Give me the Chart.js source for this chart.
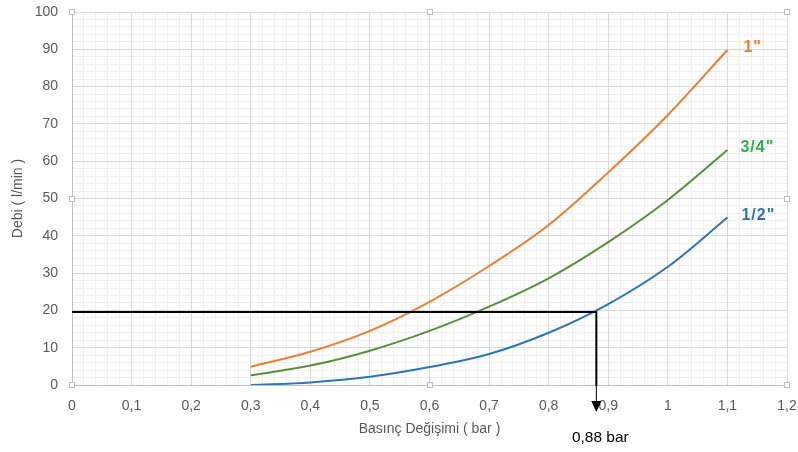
<!DOCTYPE html>
<html>
<head>
<meta charset="utf-8">
<script src="https://cdn.jsdelivr.net/npm/chart.js@4/dist/chart.umd.min.js"></script>
<style>
html,body{margin:0;padding:0;background:#fff;}
#wrap{width:798px;height:452px;position:relative;}
</style>
</head>
<body>
<div id="wrap"><canvas id="c" width="798" height="452"></canvas></div>
<script>
// ---- data ----
const pressure = [0.3, 0.4, 0.5, 0.6, 0.7, 0.8, 0.9, 1.0, 1.1];
const flow1 = [4.9, 8.9, 14.5, 22.3, 31.9, 42.9, 57.0, 72.4, 89.8];
const flow34 = [2.6, 5.2, 9.2, 14.5, 21.0, 28.6, 38.3, 49.6, 63.0];
const flow12 = [0.0, 0.7, 2.2, 4.8, 8.3, 14.0, 21.7, 31.7, 44.9];
const seriesNames = ['1"', '3/4"', '1/2"'];
const seriesColors = ['#ED7D31', '#5B8F3E', '#2E75B6'];
const labelColors = ['#ED7D31', '#2DB34A', '#2E75B6'];
const markerX = 0.88;
const markerY = 19.6;
const markerLabel = '0,88 bar';
const xTitle = 'Basınç Değişimi ( bar )';
const yTitle = 'Debi ( l/min )';

const FONT = 'Liberation Sans, Arial, sans-serif';

function pts(arr){ return pressure.map((x,i)=>({x:x, y:arr[i]})); }

const annot = {
  id:'annot',
  afterDatasetsDraw(chart){
    const {ctx, scales:{x,y}, chartArea:a} = chart;
    ctx.save();
    const px = x.getPixelForValue(markerX), py = y.getPixelForValue(markerY);
    ctx.strokeStyle = '#000'; ctx.lineWidth = 2;
    ctx.beginPath();
    ctx.moveTo(x.getPixelForValue(0), py); ctx.lineTo(px, py);
    ctx.lineTo(px, a.bottom + 1);
    ctx.stroke();
    ctx.lineWidth = 1;
    ctx.beginPath(); ctx.moveTo(px, a.bottom); ctx.lineTo(px, a.bottom+17); ctx.stroke();
    ctx.fillStyle = '#000';
    ctx.beginPath();
    ctx.moveTo(px-5, a.bottom+16); ctx.lineTo(px+5, a.bottom+16); ctx.lineTo(px, a.bottom+27);
    ctx.closePath(); ctx.fill();
    ctx.font = '15.5px ' + FONT;
    ctx.textAlign = 'center'; ctx.textBaseline = 'middle';
    ctx.fillText(markerLabel, px + 4, a.bottom + 53);
    ctx.font = 'bold 16px ' + FONT;
    ctx.letterSpacing = '1px';
    ctx.textAlign = 'left';
    const offs = [16, 13, 14];
    chart.data.datasets.forEach((ds, i) => {
      const meta = chart.getDatasetMeta(i);
      const last = meta.data[meta.data.length-1];
      ctx.fillStyle = labelColors[i];
      ctx.fillText(seriesNames[i], last.x + offs[i], last.y - 2);
    });
    ctx.letterSpacing = '0px';
    ctx.fillStyle = '#fff'; ctx.strokeStyle = '#bfbfbf'; ctx.lineWidth = 1;
    const mx = (a.left + a.right)/2, my = (a.top + a.bottom)/2;
    [[a.left,a.top],[mx,a.top],[a.right,a.top],[a.right,my],[a.right,a.bottom],[a.left,my],[a.left,a.bottom],[mx,a.bottom]].forEach(([hx,hy])=>{
      ctx.fillRect(Math.round(hx)-3, Math.round(hy)-3, 6, 6);
      ctx.strokeRect(Math.round(hx)-2.5, Math.round(hy)-2.5, 5, 5);
    });
    ctx.restore();
  }
};

new Chart(document.getElementById('c'), {
  type: 'line',
  data: {
    datasets: [flow1, flow34, flow12].map((arr, i) => ({
      label: seriesNames[i],
      data: pts(arr),
      borderColor: seriesColors[i],
      borderWidth: 2,
      pointRadius: 0,
      fill: false,
      tension: 0.35
    }))
  },
  options: {
    responsive: false,
    animation: false,
    layout: { padding: { left: 0, right: 11, top: 12, bottom: 0 } },
    plugins: { legend: { display: false }, tooltip: { enabled: false } },
    scales: {
      xm: {
        type: 'linear', min: 0, max: 1.2, position: 'bottom', display: true,
        ticks: { display: false, stepSize: 0.02 },
        grid: { color: '#efefef', drawTicks: false, lineWidth: 1 },
        border: { display: false },
        afterFit(s){ s.height = 0; s.paddingLeft = 0; s.paddingRight = 0; }
      },
      ym: {
        type: 'linear', min: 0, max: 100, position: 'left', display: true,
        ticks: { display: false, stepSize: 2 },
        grid: { color: '#efefef', drawTicks: false, lineWidth: 1 },
        border: { display: false },
        afterFit(s){ s.width = 0; s.paddingTop = 0; s.paddingBottom = 0; }
      },
      x: {
        type: 'linear', min: 0, max: 1.2,
        ticks: {
          stepSize: 0.1, color: '#595959', padding: 13,
          font: { family: FONT, size: 14 },
          callback: v => (Math.round(v*10)/10).toString().replace('.', ',')
        },
        grid: { color: '#d9d9d9', drawTicks: false, lineWidth: 1 },
        border: { color: '#bfbfbf' },
        title: { display: true, text: xTitle, color: '#595959', font: { family: FONT, size: 14 }, padding: { top: 0, bottom: 14 } },
        afterFit(s){ s.height = 67; s.paddingLeft = 0; s.paddingRight = 0; }
      },
      y: {
        type: 'linear', min: 0, max: 100,
        ticks: {
          stepSize: 10, color: '#595959', padding: 14,
          font: { family: FONT, size: 14 }
        },
        grid: { color: '#d9d9d9', drawTicks: false, lineWidth: 1 },
        border: { color: '#bfbfbf' },
        title: { display: true, text: yTitle, color: '#595959', font: { family: FONT, size: 14 }, padding: { top: 10, bottom: 4 } },
        afterFit(s){ s.width = 72; s.paddingTop = 0; s.paddingBottom = 0; }
      }
    }
  },
  plugins: [annot]
});
</script>
</body>
</html>
